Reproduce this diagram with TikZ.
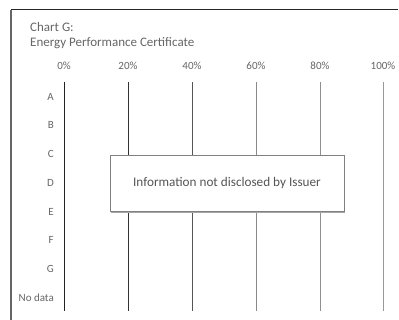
\documentclass[tikz,border=0pt]{standalone}
\usepackage{fontspec}
\setmainfont{Carlito}
\definecolor{txt}{HTML}{666666}
\definecolor{boxtxt}{HTML}{555555}
\begin{document}
\begin{tikzpicture}[x=1pt,y=-1pt,
  pct/.style={text=txt,font=\fontsize{11}{13}\selectfont,inner sep=0pt},
  row/.style={text=txt,font=\fontsize{11}{13}\selectfont,inner sep=0pt,anchor=east},
  grid/.style={line width=1pt},
  title/.style={text=txt,font=\fontsize{13}{15}\selectfont,inner sep=0pt,anchor=west}]
\useasboundingbox (0,0) rectangle (399,320);
\fill[white] (0,0) rectangle (399,320);
% frame
\draw[line width=1pt,black!85] (11,10) -- (398,10);
\draw[line width=1.2pt,black!60] (11,10) -- (11,320);
% title
\node[title] (t1) at (30,27) {Chart G:};
\node[title] (t2) at (30,43) {Energy Performance Certificate};
% percentage labels
\foreach \p/\c/\x in {0/222222/64,20/333333/128,40/555555/192,60/8a8a8a/256,80/8f8f8f/320,100/999999/383}{
  \node[pct] (p\p) at (\x,66) {\p\%};
  \definecolor{gc}{HTML}{\c}
  \draw[grid,gc] (\x,82) -- (\x,311);
}
% row labels
\foreach \l/\y/\n in {A/97/a,B/125/b,C/154/c,D/183/d,E/212/e,F/240/f,G/269/g,No data/298/nd}{
  \node[row] (r\n) at (54,\y) {\l};
}
% info box
\fill[black!35] (111,157) rectangle (345,213);
\node[draw=black!50,fill=white,line width=0.8pt,minimum width=234pt,minimum height=56pt,inner sep=0pt,
  text=boxtxt,font=\fontsize{13.2}{15}\selectfont] (info) at (227,183) {Information not disclosed by Issuer};
\end{tikzpicture}
\end{document}
